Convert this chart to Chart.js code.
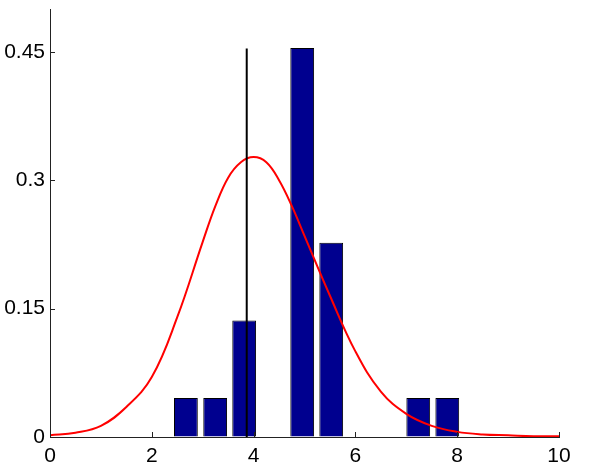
<!DOCTYPE html>
<html>
<head>
<meta charset="utf-8">
<script src="https://cdn.jsdelivr.net/npm/chart.js@4/dist/chart.umd.min.js"></script>
<style>
    html, body { margin: 0; padding: 0; background: #fff; }
    #box { width: 594px; height: 476px; }
</style>
</head>
<body>
<div id="box"><canvas id="grafico"></canvas></div>
<script>
// istogramma (centri dei bin e frequenze relative)
var binCenters = [2.67, 3.245, 3.815, 4.955, 5.525, 7.235, 7.805];
var binValues = [0.0455, 0.0455, 0.136, 0.4545, 0.227, 0.0455, 0.0455];

// curva rossa
var curveX = [0, 0.5, 1, 1.5, 2, 2.5, 3, 3.25, 3.5, 3.75, 4, 4.25, 4.5, 4.75, 5, 5.5, 6, 6.5, 7, 7.5, 8, 8.5, 9, 9.5, 10];
var curveY = [0.002, 0.005, 0.013, 0.035, 0.07, 0.14, 0.228, 0.27, 0.303, 0.321, 0.327, 0.321, 0.3, 0.27, 0.235, 0.165, 0.1, 0.053, 0.027, 0.013, 0.006, 0.003, 0.002, 0.001, 0.001];

// linea verticale nera
var lineaX = [3.865, 3.865];
var lineaY = [0, 0.454];

var xTicks = [0, 2, 4, 6, 8, 10];
var yTicks = [0, 0.15, 0.3, 0.45];

var barre = [];
for (var i = 0; i < binCenters.length; i++) {
    barre.push({ x: binCenters[i], y: binValues[i] });
}
var curva = [];
for (var i = 0; i < curveX.length; i++) {
    curva.push({ x: curveX[i], y: curveY[i] });
}
var linea = [];
for (var i = 0; i < lineaX.length; i++) {
    linea.push({ x: lineaX[i], y: lineaY[i] });
}

// tacche interne stile matlab
var tacchePlugin = {
    id: 'tacche',
    afterDatasetsDraw: function (chart) {
        var ctx = chart.ctx;
        var area = chart.chartArea;
        var sx = chart.scales.x, sy = chart.scales.y;
        ctx.save();
        ctx.strokeStyle = '#222';
        ctx.lineWidth = 1;
        ctx.beginPath();
        xTicks.forEach(function (v) {
            var px = Math.round(sx.getPixelForValue(v)) + 0.5;
            ctx.moveTo(px, area.bottom);
            ctx.lineTo(px, area.bottom - 5);
        });
        yTicks.forEach(function (v) {
            var py = Math.round(sy.getPixelForValue(v)) + 0.5;
            ctx.moveTo(area.left, py);
            ctx.lineTo(area.left + 5, py);
        });
        ctx.stroke();
        ctx.restore();
    }
};

var ctx = document.getElementById('grafico');
var chart = new Chart(ctx, {
    type: 'bar',
    data: {
        datasets: [{
            type: 'line',
            data: linea,
            borderColor: '#000',
            borderWidth: 2,
            pointRadius: 0,
            order: 1
        }, {
            type: 'line',
            data: curva,
            borderColor: '#ff0000',
            borderWidth: 2,
            pointRadius: 0,
            tension: 0.4,
            order: 2
        }, {
            type: 'bar',
            data: barre,
            backgroundColor: '#00008f',
            borderColor: '#000',
            borderWidth: 1,
            barPercentage: 0.82,
            categoryPercentage: 1,
            order: 3
        }]
    },
    options: {
        responsive: true,
        maintainAspectRatio: false,
        animation: false,
        layout: { padding: { top: 9, right: 35, left: 0, bottom: 0 } },
        plugins: { legend: { display: false }, tooltip: { enabled: false } },
        scales: {
            x: {
                type: 'linear',
                min: 0,
                max: 10,
                offset: false,
                afterBuildTicks: function (scale) {
                    scale.ticks = xTicks.map(function (v) { return { value: v }; });
                },
                afterFit: function (scale) {
                    scale.height = 39;
                    scale.paddingLeft = 0;
                    scale.paddingRight = 0;
                },
                grid: { drawOnChartArea: false, drawTicks: false, offset: false },
                border: { display: true, color: '#222', width: 1 },
                ticks: {
                    color: '#000',
                    padding: 7,
                    maxRotation: 0,
                    font: { family: 'Liberation Sans, Arial, sans-serif', size: 21 },
                    callback: function (v) { return String(v); }
                }
            },
            y: {
                min: 0,
                max: 0.5,
                afterBuildTicks: function (scale) {
                    scale.ticks = yTicks.map(function (v) { return { value: v }; });
                },
                afterFit: function (scale) {
                    scale.width = 50;
                    scale.paddingTop = 0;
                    scale.paddingBottom = 0;
                },
                grid: { drawOnChartArea: false, drawTicks: false },
                border: { display: true, color: '#222', width: 1 },
                ticks: {
                    color: '#000',
                    padding: 5,
                    font: { family: 'Liberation Sans, Arial, sans-serif', size: 21 },
                    callback: function (v) { return String(v); }
                }
            }
        }
    },
    plugins: [tacchePlugin]
});
</script>
</body>
</html>
